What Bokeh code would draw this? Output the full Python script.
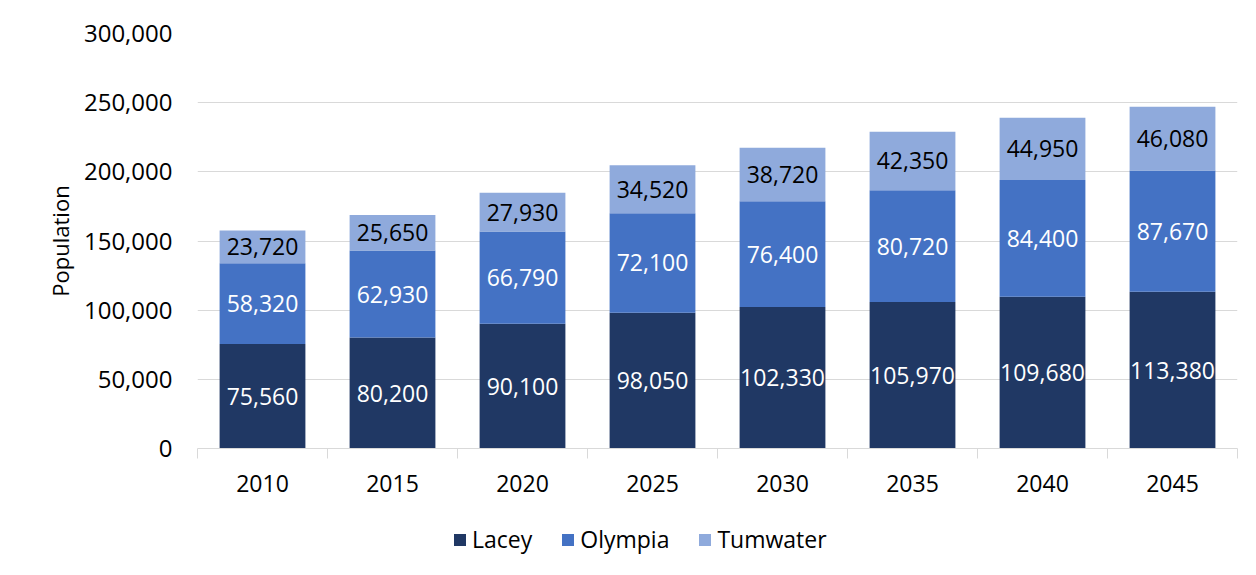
from bokeh.plotting import figure
from bokeh.layouts import column
from bokeh.models import ColumnDataSource, FixedTicker, Legend, LegendItem, NumeralTickFormatter
from bokeh.embed import file_html
from bokeh.resources import INLINE
from bokeh.core.properties import value

years = ["2010", "2015", "2020", "2025", "2030", "2035", "2040", "2045"]
lacey = [75560, 80200, 90100, 98050, 102330, 105970, 109680, 113380]
olympia = [58320, 62930, 66790, 72100, 76400, 80720, 84400, 87670]
tumwater = [23720, 25650, 27930, 34520, 38720, 42350, 44950, 46080]
series = ["Lacey", "Olympia", "Tumwater"]
colors = ["#203864", "#4472C4", "#8FAADC"]
y_ticks = [0, 50000, 100000, 150000, 200000, 250000, 300000]

FONT = "Open Sans"
FS = "23px"

x = list(range(len(years)))
src = ColumnDataSource(dict(x=x, Lacey=lacey, Olympia=olympia, Tumwater=tumwater))

p = figure(width=1240, height=512, x_range=(-0.5, len(years) - 0.5), y_range=(0, 300000),
           output_backend="svg", toolbar_location=None,
           min_border_left=197, min_border_right=3, min_border_top=33, min_border_bottom=64)

rs = p.vbar_stack(series, x="x", width=0.66, fill_color=colors, line_color=None, source=src)

# data labels
lab_x, lab_y, lab_t, lab_c = [], [], [], []
for i in x:
    base = 0
    for vals, col in ((lacey, "white"), (olympia, "white"), (tumwater, "black")):
        v = vals[i]
        lab_x.append(i)
        lab_y.append(base + v / 2)
        lab_t.append(f"{v:,}")
        lab_c.append(col)
        base += v
lsrc = ColumnDataSource(dict(x=lab_x, y=lab_y, t=lab_t, c=lab_c))
p.text(x="x", y="y", text="t", text_color="c", source=lsrc, text_align="center",
       text_baseline="middle", text_font=value(FONT), text_font_size=FS)

# x axis
p.xaxis.ticker = FixedTicker(ticks=x, minor_ticks=[i - 0.5 for i in range(len(years) + 1)])
p.xaxis.major_label_overrides = {i: y for i, y in enumerate(years)}
p.xaxis.major_tick_line_color = None
p.xaxis.minor_tick_line_color = "#d9d9d9"
p.xaxis.minor_tick_in = 0
p.xaxis.minor_tick_out = 10
p.xaxis.axis_line_color = "#d9d9d9"
p.xaxis.major_label_standoff = 16
p.xaxis.major_label_text_font = FONT
p.xaxis.major_label_text_font_size = FS
p.xaxis.major_label_text_color = "black"

# y axis
p.yaxis.ticker = FixedTicker(ticks=y_ticks)
p.yaxis.formatter = NumeralTickFormatter(format="0,0")
p.yaxis.axis_line_color = None
p.yaxis.major_tick_line_color = None
p.yaxis.minor_tick_line_color = None
p.yaxis.major_label_standoff = 19
p.yaxis.major_label_text_font = FONT
p.yaxis.major_label_text_font_size = "24px"
p.yaxis.major_label_text_color = "black"
p.yaxis.axis_label = "Population"
p.yaxis.axis_label_text_font = FONT
p.yaxis.axis_label_text_font_size = "22px"
p.yaxis.axis_label_text_font_style = "normal"
p.yaxis.axis_label_text_color = "black"
p.yaxis.axis_label_standoff = 6

p.xgrid.grid_line_color = None
p.ygrid.ticker = FixedTicker(ticks=y_ticks)
p.ygrid.grid_line_color = "#d9d9d9"
p.outline_line_color = None

# legend strip (frame is aligned with the chart's frame by the column layout)
lg = figure(width=1240, height=47, x_range=(100, 101), y_range=(0, 1), output_backend="svg",
            toolbar_location=None, x_axis_location=None, y_axis_location=None,
            min_border=0)
lg.xgrid.grid_line_color = None
lg.ygrid.grid_line_color = None
lg.outline_line_color = None
lrs = lg.vbar_stack(series, x="x", width=0.66, fill_color=colors, line_color=None, source=src)
for r in lrs:
    r.visible = False
items = [LegendItem(label=s, renderers=[r]) for s, r in zip(series, lrs)]
legend = Legend(items=items, orientation="horizontal", location=(255, 4),
                glyph_width=15, glyph_height=15, label_text_font=FONT, label_text_font_size=FS,
                label_text_color="black", label_standoff=5, spacing=28, padding=0, margin=0,
                border_line_color=None, background_fill_alpha=0, inactive_fill_alpha=0)
lg.add_layout(legend, "center")

open("out.html", "w").write(file_html(column(p, lg), INLINE))
